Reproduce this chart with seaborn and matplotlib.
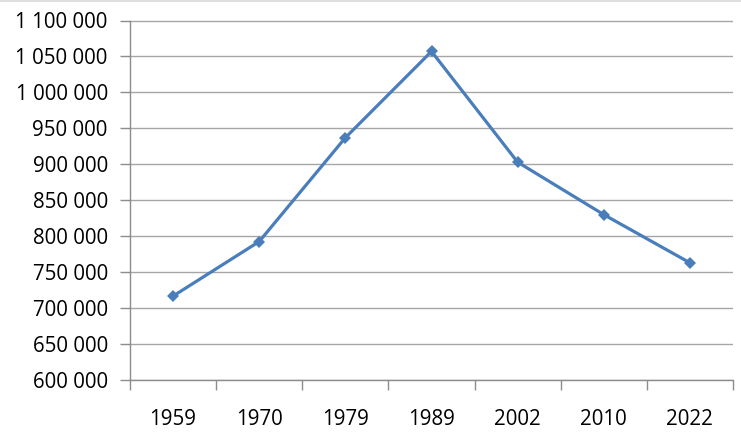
import matplotlib
matplotlib.use("Agg")
import matplotlib.pyplot as plt
import seaborn as sns
import pandas as pd
from matplotlib.ticker import FuncFormatter, FixedLocator
from matplotlib.lines import Line2D

years = ["1959", "1970", "1979", "1989", "2002", "2010", "2022"]
population = [716700, 792600, 937000, 1057000, 903000, 830000, 763000]

df = pd.DataFrame({"year": years, "pop": population})

sns.set_theme(style="white")
plt.rcParams["font.family"] = ["Open Sans", "DejaVu Sans"]

fig = plt.figure(figsize=(7.41, 4.40), dpi=100)
ax = fig.add_axes([130/741, 1-380/440, (733-130)/741, (380-20.5)/440])

sns.lineplot(data=df, x="year", y="pop", ax=ax, color="#4A7EBB", linewidth=2.3,
             marker="D", markersize=6, markeredgewidth=0, sort=False)

ax.set_xlim(-0.5, len(years) - 0.5)
ax.set_ylim(600000, 1100000)
ax.set_yticks(range(600000, 1100001, 50000))
ax.yaxis.set_major_formatter(FuncFormatter(lambda v, p: f"{int(v):,}".replace(",", " ")))
ax.yaxis.grid(True, color="#A6A6A6", linewidth=1.0)
ax.xaxis.grid(False)

ax.set_xlabel("")
ax.set_ylabel("")

for s in ["top", "right"]:
    ax.spines[s].set_visible(False)
for s in ["left", "bottom"]:
    ax.spines[s].set_color("#8C8C8C")
    ax.spines[s].set_linewidth(1.0)

ax.tick_params(axis="y", which="major", length=7, width=1, color="#8C8C8C",
               direction="out", left=True, labelsize=14.8, pad=9, labelcolor="black")
ax.tick_params(axis="x", which="major", length=0, labelsize=14.8, pad=21, labelcolor="black")
ax.xaxis.set_minor_locator(FixedLocator([i - 0.5 for i in range(len(years) + 1)]))
ax.tick_params(axis="x", which="minor", length=7, width=1, color="#8C8C8C",
               direction="out", bottom=True)

fig.add_artist(Line2D([0, 1], [0.998, 0.998], transform=fig.transFigure,
                      color="#D9D9D9", linewidth=1.2))

fig.savefig("out.png", dpi=100)
